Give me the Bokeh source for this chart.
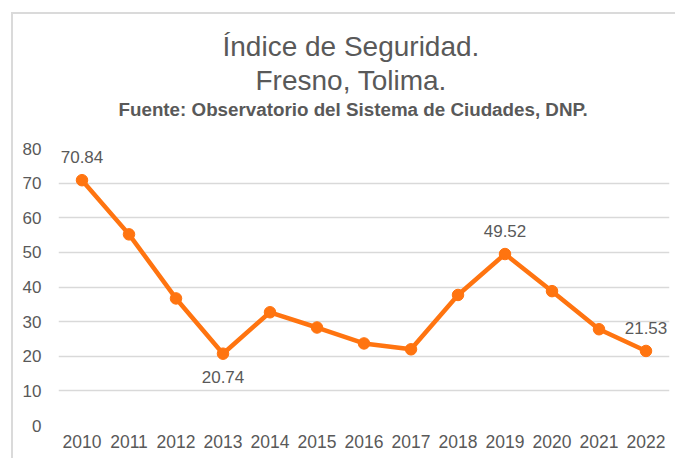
from bokeh.plotting import figure
from bokeh.models import ColumnDataSource, LabelSet, Title, FixedTicker
from bokeh.core.properties import value
from bokeh.embed import file_html
from bokeh.resources import INLINE

years = ["2010", "2011", "2012", "2013", "2014", "2015", "2016", "2017", "2018", "2019", "2020", "2021", "2022"]
values = [70.84, 55.2, 36.7, 20.74, 32.7, 28.3, 23.7, 22.0, 37.7, 49.52, 38.8, 27.8, 21.53]
y_ticks = [0, 10, 20, 30, 40, 50, 60, 70, 80]
label_years = ["2010", "2013", "2019", "2022"]
label_values = [70.84, 20.74, 49.52, 21.53]
label_side = ["above", "below", "above", "above"]

title_1 = "Índice de Seguridad."
title_2 = "Fresno, Tolima."
subtitle = "Fuente: Observatorio del Sistema de Ciudades, DNP."

FONT = "Liberation Sans"
GREY = "#595959"
ORANGE = "#FF7410"

p = figure(x_range=years, y_range=(0, 80), width=664, height=446,
           output_backend="svg", toolbar_location=None,
           min_border_left=45, min_border_right=8, min_border_bottom=35, min_border_top=134)
p.title = None
p.margin = (12, 0, 0, 11)
p.styles = {"border-top": "2px solid #dadada", "border-left": "2px solid #dadada"}

# spacer between subtitle and plot area
p.add_layout(Title(text=" ", text_font=FONT, text_font_size="1px", standoff=26), "above")
p.add_layout(Title(text=subtitle, align="left", offset=60, text_font=FONT, text_font_size="18.8px",
                   text_font_style="bold", text_color=GREY, standoff=0), "above")
p.add_layout(Title(text=title_2, align="left", offset=197, text_font=FONT, text_font_size="28px",
                   text_font_style="normal", text_color=GREY, standoff=2), "above")
p.add_layout(Title(text=title_1, align="left", offset=164, text_font=FONT, text_font_size="28px",
                   text_font_style="normal", text_color=GREY, standoff=0), "above")

src = ColumnDataSource(dict(x=years, y=values))
p.line("x", "y", source=src, line_color=ORANGE, line_width=4.5)
p.scatter("x", "y", source=src, size=11.5, fill_color=ORANGE, line_color=ORANGE)

offs = [23 if s == "above" else -23 for s in label_side]
lsrc = ColumnDataSource(dict(x=label_years, y=label_values,
                             t=[f"{v:.2f}" for v in label_values], off=offs))
p.add_layout(LabelSet(x="x", y="y", text="t", y_offset="off", source=lsrc,
                      text_align="center", text_baseline="middle",
                      text_font=value(FONT), text_font_size=value("17px"), text_color=GREY))

p.outline_line_color = None
p.xgrid.grid_line_color = None
p.ygrid.grid_line_color = "#d9d9d9"
p.ygrid.grid_line_width = 1.5
p.yaxis.ticker = FixedTicker(ticks=y_ticks)

for ax in (p.xaxis, p.yaxis):
    ax.axis_line_color = None
    ax.major_tick_line_color = None
    ax.minor_tick_line_color = None
    ax.major_label_text_font = FONT
    ax.major_label_text_color = GREY
p.xaxis.major_label_text_font_size = "17.5px"
p.yaxis.major_label_text_font_size = "17px"
p.xaxis.major_label_standoff = 3
p.yaxis.major_label_standoff = 11

p.x_range.range_padding = 0

open("out.html", "w").write(file_html(p, INLINE))
